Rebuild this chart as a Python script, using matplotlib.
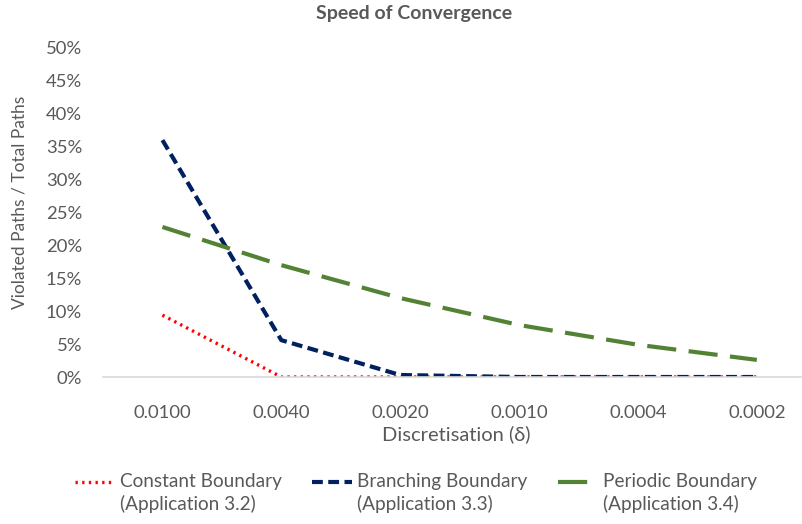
import numpy as np
import matplotlib.pyplot as plt
from matplotlib.legend_handler import HandlerLine2D
from matplotlib.ticker import PercentFormatter

plt.rcParams['font.family'] = ['Lato', 'DejaVu Sans']

deltas = ['0.0100', '0.0040', '0.0020', '0.0010', '0.0004', '0.0002']
constant = [9.4, 0.0, 0.0, 0.0, 0.0, 0.0]
branching = [36.0, 5.6, 0.3, 0.0, 0.0, 0.0]
periodic = [22.8, 17.0, 12.0, 7.9, 4.9, 2.6]

grey = '#595959'
x = np.arange(len(deltas))


class TopLineHandler(HandlerLine2D):
    # put the legend line next to the first row of a two-line label
    def create_artists(self, legend, orig_handle, xdescent, ydescent, width, height,
                       fontsize, trans):
        artists = super().create_artists(legend, orig_handle, xdescent, ydescent,
                                         width, height, fontsize, trans)
        for a in artists:
            a.set_ydata(np.asarray(a.get_ydata()) + 0.62 * fontsize)
        return artists


fig = plt.figure(figsize=(8.02, 5.24), dpi=100)
ax = fig.add_axes([103 / 802, 1 - 377 / 524, 699 / 802, 329 / 524])

ax.plot(x, np.array(constant) / 100, color='#FF0000', lw=2.4, linestyle=(0, (0.7, 1.3)),
        label='Constant Boundary\n(Application 3.2)')
ax.plot(x, np.array(branching) / 100, color='#002060', lw=3, linestyle=(0, (2.6, 1.3)),
        label='Branching Boundary\n(Application 3.3)')
ax.plot(x, np.array(periodic) / 100, color='#548235', lw=3, linestyle=(0, (7, 3)),
        label='Periodic Boundary\n(Application 3.4)')

ax.set_xlim(-0.5, 5.38)
ax.set_ylim(0, 0.5)
ax.set_yticks(np.arange(0, 0.51, 0.05))
ax.yaxis.set_major_formatter(PercentFormatter(1.0, decimals=0))
ax.set_xticks(x)
ax.set_xticklabels(deltas)
ax.tick_params(length=0, labelsize=13.3, colors=grey)
ax.tick_params(axis='y', pad=15)
ax.tick_params(axis='x', pad=20)

for side in ['top', 'right', 'left']:
    ax.spines[side].set_visible(False)
ax.spines['bottom'].set_color('#D9D9D9')
ax.spines['bottom'].set_linewidth(1.2)

fig.text(414 / 802, 1 - 14 / 524, 'Speed of Convergence', ha='center', va='center',
         fontsize=14, fontweight='bold', color=grey)
fig.text(20 / 802, 1 - 202 / 524, 'Violated Paths / Total Paths', rotation=90,
         ha='center', va='center', fontsize=12.5, color=grey)
fig.text(456 / 802, 1 - 434 / 524, 'Discretisation (δ)', ha='center', va='center',
         fontsize=14.5, color=grey)

leg = fig.legend(loc='center', bbox_to_anchor=(416 / 802, 1 - 493 / 524), ncol=3,
                 frameon=False, fontsize=13.7, handlelength=2.1, handletextpad=0.25,
                 columnspacing=1.6, labelcolor=grey,
                 handler_map={plt.Line2D: TopLineHandler()})
for t in leg.get_texts():
    t.set_linespacing(1.35)

fig.savefig('out.png', dpi=100)
